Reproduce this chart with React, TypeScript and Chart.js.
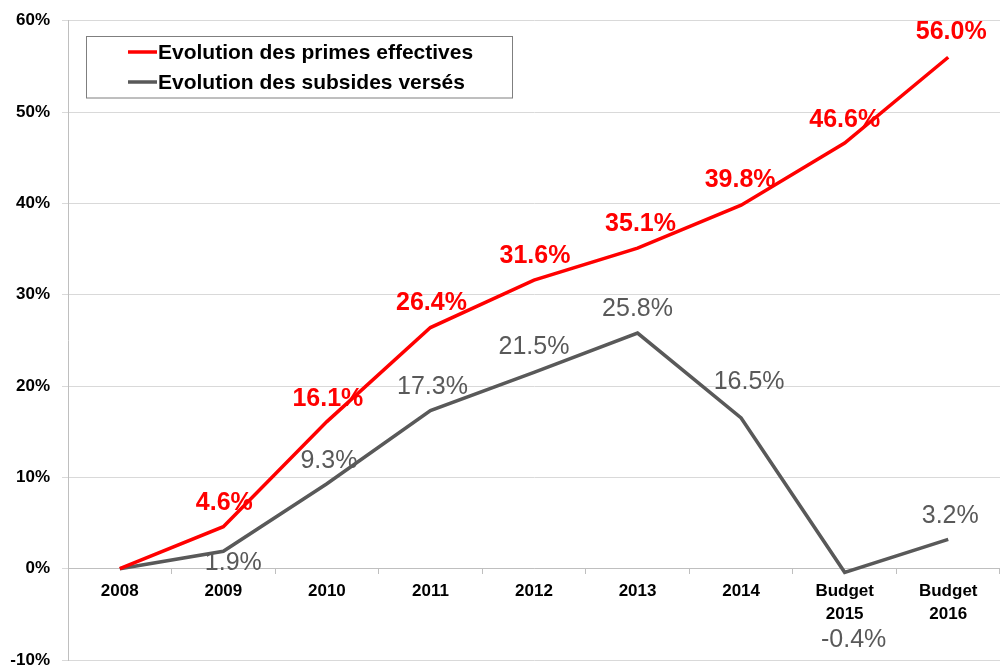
import React, { useEffect, useRef } from "react";
import { Chart, registerables } from "chart.js";

Chart.register(...registerables);

// ---- data ----
const categories: (string | string[])[] = [
  "2008",
  "2009",
  "2010",
  "2011",
  "2012",
  "2013",
  "2014",
  ["Budget", "2015"],
  ["Budget", "2016"],
];
const primesEffectives = [0, 4.6, 16.1, 26.4, 31.6, 35.1, 39.8, 46.6, 56.0];
const subsidesVerses = [0, 1.9, 9.3, 17.3, 21.5, 25.8, 16.5, -0.4, 3.2];
const seriesNames = ["Evolution des primes effectives", "Evolution des subsides versés"];
const yMin = -10;
const yMax = 60;
const yStep = 10;

// label placement (pixel shifts from the point), null = no label
const primesLabelShift: ([number, number] | null)[] = [
  null, [1, -24], [1, -23], [1, -24], [1, -24], [3, -24], [-1, -25], [0, -23], [3, -25],
];
const subsidesLabelShift: ([number, number] | null)[] = [
  null, [10, 12], [2, -23], [2, -24], [0, -25], [0, -24], [8, -36], [9, 68], [2, -23],
];

const FONT = "'Liberation Sans', Arial, Helvetica, sans-serif";
const RED = "#ff0000";
const GREY = "#595959";

const valueLabelPlugin = {
  id: "valueLabels",
  afterDatasetsDraw(chart: any) {
    const ctx = chart.ctx;
    chart.data.datasets.forEach((ds: any, di: number) => {
      const meta = chart.getDatasetMeta(di);
      const shifts = di === 0 ? primesLabelShift : subsidesLabelShift;
      ctx.save();
      ctx.font = di === 0 ? `bold 25px ${FONT}` : `25px ${FONT}`;
      ctx.fillStyle = ds.borderColor;
      ctx.textAlign = "center";
      ctx.textBaseline = "middle";
      meta.data.forEach((pt: any, i: number) => {
        const s = shifts[i];
        if (!s) return;
        ctx.fillText(ds.data[i].toFixed(1) + "%", pt.x + s[0], pt.y + s[1]);
      });
      ctx.restore();
    });
  },
};

const legendBoxPlugin = {
  id: "legendBox",
  afterDraw(chart: any) {
    const ctx = chart.ctx;
    ctx.save();
    ctx.fillStyle = "#ffffff";
    ctx.fillRect(87, 37, 425, 61);
    ctx.strokeStyle = "#7f7f7f";
    ctx.lineWidth = 1;
    ctx.strokeRect(86.5, 36.5, 426, 61.5);
    const rows = [52, 82];
    chart.data.datasets.forEach((ds: any, i: number) => {
      const y = rows[i];
      ctx.strokeStyle = ds.borderColor;
      ctx.lineWidth = 3.5;
      ctx.beginPath();
      ctx.moveTo(128, y);
      ctx.lineTo(157, y);
      ctx.stroke();
      ctx.fillStyle = "#000000";
      ctx.font = `bold 21px ${FONT}`;
      ctx.textAlign = "left";
      ctx.textBaseline = "middle";
      ctx.fillText(ds.label, 158, y + 1);
    });
    ctx.restore();
  },
};

export default function App() {
  const canvasRef = useRef<HTMLCanvasElement | null>(null);

  useEffect(() => {
    const canvas = canvasRef.current;
    if (!canvas) return;
    const chart = new Chart(canvas, {
      type: "line",
      data: {
        labels: categories,
        datasets: [
          {
            label: seriesNames[0],
            data: primesEffectives,
            borderColor: RED,
            backgroundColor: RED,
            borderWidth: 3.5,
            pointRadius: 0,
            tension: 0,
          },
          {
            label: seriesNames[1],
            data: subsidesVerses,
            borderColor: GREY,
            backgroundColor: GREY,
            borderWidth: 3.5,
            pointRadius: 0,
            tension: 0,
          },
        ],
      },
      options: {
        responsive: false,
        animation: false,
        devicePixelRatio: 1,
        layout: { padding: { left: 0, right: -3, top: 20.7, bottom: 8 } },
        plugins: {
          legend: { display: false },
          tooltip: { enabled: false },
        },
        scales: {
          x: {
            type: "category",
            position: { y: 0 } as any,
            offset: true,
            grid: {
              display: true,
              drawOnChartArea: false,
              drawTicks: true,
              tickLength: 5,
              color: "#bfbfbf",
              offset: true,
            },
            border: { display: true, color: "#bfbfbf", width: 1 },
            ticks: {
              color: "#000000",
              font: { family: FONT, size: 17, weight: "bold", lineHeight: 1.3 },
              padding: 7,
              maxRotation: 0,
              autoSkip: false,
            },
          },
          y: {
            min: yMin,
            max: yMax,
            afterFit: (s: any) => {
              s.width = 68;
              s.paddingTop = 0;
              s.paddingBottom = 0;
            },
            grid: {
              color: "#d9d9d9",
              lineWidth: 1,
              drawTicks: true,
              tickLength: 6,
            },
            border: { display: true, color: "#bfbfbf", width: 1 },
            ticks: {
              stepSize: yStep,
              color: "#000000",
              padding: 12,
              font: { family: FONT, size: 17, weight: "bold" },
              callback: (v: any) => `${v}%`,
            },
          },
        },
      },
      plugins: [valueLabelPlugin, legendBoxPlugin],
    });
    return () => chart.destroy();
  }, []);

  return (
    <div style={{ position: "absolute", left: 0, top: 0, width: 1000, height: 668, background: "#ffffff" }}>
      <canvas ref={canvasRef} width={1000} height={668} style={{ display: "block" }} />
    </div>
  );
}
